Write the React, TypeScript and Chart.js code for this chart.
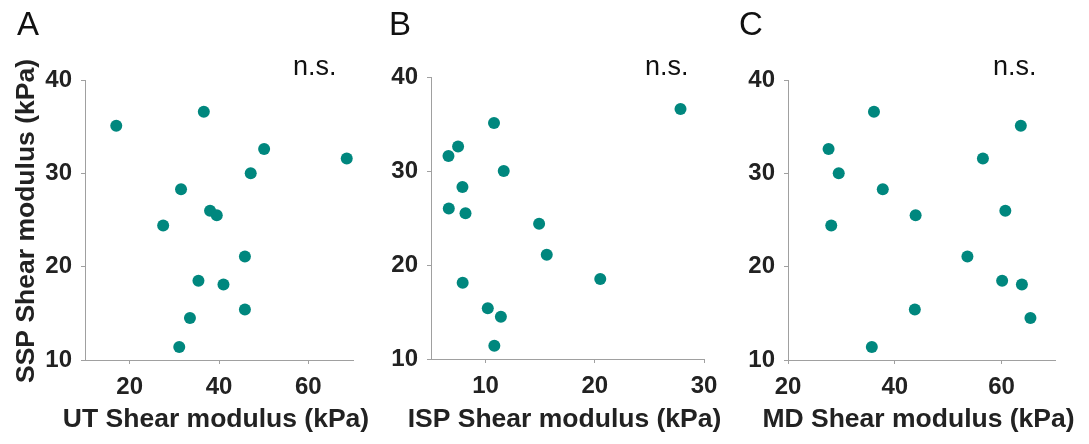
import React, { useEffect, useRef } from "react";
import { Chart, registerables } from "chart.js";

Chart.register(...registerables);

const sspShear = [35.1, 36.6, 32.6, 31.6, 30.0, 28.3, 26.0, 25.5, 24.4, 21.1, 18.5, 18.1, 15.4, 14.5, 11.4];
const utShear = [17.0, 36.6, 50.1, 68.6, 47.1, 31.5, 38.0, 39.5, 27.5, 45.8, 35.4, 41.0, 45.8, 33.5, 31.1];
const ispShear = [10.77, 27.85, 7.48, 6.6, 11.66, 7.88, 6.63, 8.16, 14.9, 15.6, 20.5, 7.9, 10.2, 11.4, 10.8];
const mdShear = [63.6, 36.1, 27.6, 56.5, 29.5, 37.75, 60.7, 43.9, 28.1, 53.6, 60.1, 63.8, 43.75, 65.4, 35.7];

const yTicks = [10, 20, 30, 40];
const utTicks = [20, 40, 60];
const ispTicks = [10, 20, 30];
const mdTicks = [20, 40, 60];

const panelLetters = ["A", "B", "C"];
const xTitles = ["UT Shear modulus (kPa)", "ISP Shear modulus (kPa)", "MD Shear modulus (kPa)"];
const yTitle = "SSP Shear modulus (kPa)";
const sigLabel = "n.s.";

const TEAL = "#00877E";
const AXIS = "#A0A0A0";
const TEXT = "#222222";
const FONT = "'Liberation Sans', Arial, sans-serif";
const H = 444;

type PanelCfg = {
  xs: number[];
  xTicks: number[];
  xMin: number;
  xMax: number;
  letter: string;
  xTitle: string;
  showYTitle: boolean;
  canvasLeft: number;
  canvasWidth: number;
  area: { left: number; right: number; top: number; bottom: number };
  letterX: number;
  nsX: number;
};

const panels: PanelCfg[] = [
  {
    xs: utShear, xTicks: utTicks, xMin: 10, xMax: 70, letter: panelLetters[0], xTitle: xTitles[0],
    showYTitle: true, canvasLeft: 0, canvasWidth: 380,
    area: { left: 85, right: 353, top: 80, bottom: 360 }, letterX: 17, nsX: 293,
  },
  {
    xs: ispShear, xTicks: ispTicks, xMin: 5, xMax: 30, letter: panelLetters[1], xTitle: xTitles[1],
    showYTitle: false, canvasLeft: 380, canvasWidth: 355,
    area: { left: 51, right: 324, top: 77, bottom: 359 }, letterX: 9, nsX: 265,
  },
  {
    xs: mdShear, xTicks: mdTicks, xMin: 20, xMax: 70, letter: panelLetters[2], xTitle: xTitles[2],
    showYTitle: false, canvasLeft: 735, canvasWidth: 354,
    area: { left: 53, right: 320, top: 80, bottom: 360 }, letterX: 4, nsX: 258,
  },
];

function Panel({ cfg }: { cfg: PanelCfg }) {
  const ref = useRef<HTMLCanvasElement | null>(null);
  useEffect(() => {
    if (!ref.current) return;
    const textPlugin = {
      id: "panelText",
      afterDraw(chart: any) {
        const ctx = chart.ctx;
        const ca = chart.chartArea;
        ctx.save();
        ctx.fillStyle = "#111";
        ctx.textBaseline = "alphabetic";
        ctx.textAlign = "left";
        ctx.font = `33px ${FONT}`;
        ctx.fillText(cfg.letter, cfg.letterX, 35);
        ctx.font = `27px ${FONT}`;
        ctx.fillText(sigLabel, cfg.nsX, 75);
        // axis titles
        ctx.fillStyle = TEXT;
        ctx.font = `bold 26.5px ${FONT}`;
        ctx.textAlign = "center";
        ctx.textBaseline = "middle";
        ctx.fillText(cfg.xTitle, (ca.left + ca.right) / 2 - 3, 420);
        if (cfg.showYTitle) {
          ctx.translate(27, (ca.top + ca.bottom) / 2 + 1);
          ctx.rotate(-Math.PI / 2);
          ctx.fillText(yTitle, 0, 0);
        }
        ctx.restore();
      },
    };
    const chart = new Chart(ref.current, {
      type: "scatter",
      data: {
        datasets: [
          {
            data: cfg.xs.map((x, i) => ({ x, y: sspShear[i] })),
            backgroundColor: TEAL,
            borderWidth: 0,
            pointRadius: 6,
            pointHoverRadius: 6,
          },
        ],
      },
      options: {
        animation: false,
        responsive: false,
        events: [],
        layout: {
          padding: {
            left: 0,
            right: cfg.canvasWidth - cfg.area.right,
            top: cfg.area.top,
            bottom: 0,
          },
        },
        plugins: { legend: { display: false }, tooltip: { enabled: false } },
        scales: {
          x: {
            type: "linear",
            min: cfg.xMin,
            max: cfg.xMax,
            afterBuildTicks: (s: any) => {
              s.ticks = cfg.xTicks.map((v) => ({ value: v }));
            },
            afterFit: (s: any) => {
              s.height = H - cfg.area.bottom;
            },
            grid: { drawOnChartArea: false, drawTicks: true, tickLength: 4, color: AXIS },
            border: { display: true, color: AXIS, width: 1 },
            ticks: {
              color: TEXT,
              padding: 9,
              maxRotation: 0,
              font: { family: FONT, size: 24, weight: "bold" },
            },
            title: { display: false },
          },
          y: {
            type: "linear",
            min: 10,
            max: 40,
            afterBuildTicks: (s: any) => {
              s.ticks = yTicks.map((v) => ({ value: v }));
            },
            afterFit: (s: any) => {
              s.width = cfg.area.left;
            },
            grid: { drawOnChartArea: false, drawTicks: true, tickLength: 4, color: AXIS },
            border: { display: true, color: AXIS, width: 1 },
            ticks: {
              color: TEXT,
              padding: 9,
              font: { family: FONT, size: 24, weight: "bold" },
            },
            title: { display: false },
          },
        },
      } as any,
      plugins: [textPlugin],
    });
    return () => chart.destroy();
  }, [cfg]);
  return (
    <canvas
      ref={ref}
      width={cfg.canvasWidth}
      height={H}
      style={{ position: "absolute", left: cfg.canvasLeft, top: 0, width: cfg.canvasWidth, height: H }}
    />
  );
}

export default function App() {
  useEffect(() => {
    document.body.style.margin = "0";
    document.body.style.background = "#fff";
  }, []);
  return (
    <div style={{ position: "relative", width: 1089, height: H, background: "#fff", overflow: "hidden" }}>
      {panels.map((p, i) => (
        <Panel key={i} cfg={p} />
      ))}
    </div>
  );
}
